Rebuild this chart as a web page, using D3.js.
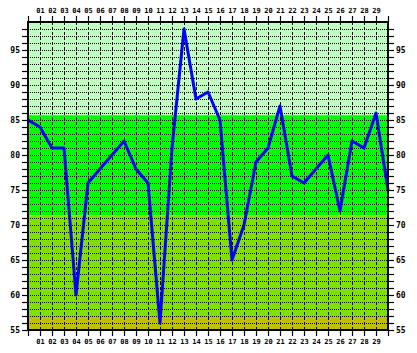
<!DOCTYPE html>
<html>
<head>
<meta charset="utf-8">
<script src="https://cdn.jsdelivr.net/npm/d3@7"></script>
<style>
  body { margin: 0; background: #fff; }
  text { font-family: "DejaVu Sans Mono", monospace; font-weight: bold; fill: #000; }
</style>
</head>
<body>
<script>
// daily readings, day 0 .. 30
var days = d3.range(0, 31);
var values = [85, 84, 81, 81, 60, 76, 78, 80, 82, 78, 76, 56, 81, 98, 88, 89,
              85, 65, 70, 79, 81, 87, 77, 76, 78, 80, 72, 82, 81, 86, 75];
var dayLabels = d3.range(1, 30).map(function(d){ return d < 10 ? "0" + d : "" + d; });
var yLabels = [55, 60, 65, 70, 75, 80, 85, 90, 95];
// background zones [from, to, colour]
var zones = [[55, 57, "#c0c000"], [57, 71.4, "#80e000"], [71.4, 85.7, "#00ff00"], [85.7, 99, "#c0ffc0"]];

var w = 417, h = 353;
var pLeft = 28, pRight = 388, pTop = 22, pBottom = 330;

var svg = d3.select("body").append("svg")
    .attr("width", w)
    .attr("height", h);

var x = d3.scaleLinear().domain([0, 30]).range([pLeft, pRight]);
var y = d3.scaleLinear().domain([55, 99]).range([pBottom, pTop]);

svg.selectAll(".zone")
    .data(zones)
    .enter()
    .append("rect")
    .attr("x", pLeft)
    .attr("width", pRight - pLeft)
    .attr("y", function(d){ return y(d[1]); })
    .attr("height", function(d){ return y(d[0]) - y(d[1]); })
    .attr("fill", function(d){ return d[2]; });

// horizontal dotted grid, every unit
svg.selectAll(".hgrid")
    .data(d3.range(56, 99))
    .enter()
    .append("line")
    .attr("x1", pLeft).attr("x2", pRight)
    .attr("y1", function(d){ return Math.round(y(d)) + 0.5; })
    .attr("y2", function(d){ return Math.round(y(d)) + 0.5; })
    .attr("stroke", "#000")
    .attr("stroke-dasharray", "1,1")
    .attr("shape-rendering", "crispEdges");

// vertical dashed grid, every day
svg.selectAll(".vgrid")
    .data(d3.range(1, 30))
    .enter()
    .append("line")
    .attr("x1", function(d){ return x(d) + 0.5; })
    .attr("x2", function(d){ return x(d) + 0.5; })
    .attr("y1", pTop).attr("y2", pBottom)
    .attr("stroke", "#000")
    .attr("stroke-dasharray", "3,2")
    .attr("shape-rendering", "crispEdges");

var line = d3.line()
    .x(function(d, i){ return x(days[i]); })
    .y(function(d){ return y(d); });

svg.append("path")
    .datum(values)
    .attr("d", line)
    .attr("fill", "none")
    .attr("stroke", "#0000ff")
    .attr("stroke-width", 3)
    .attr("stroke-linejoin", "round");

// frame
svg.append("rect")
    .attr("x", pLeft).attr("y", pTop)
    .attr("width", pRight - pLeft).attr("height", pBottom - pTop)
    .attr("fill", "none")
    .attr("stroke", "#000")
    .attr("stroke-width", 2);

// axes
function styleAxis(g){
    g.select(".domain").remove();
    g.selectAll(".tick line").attr("stroke", "#000").attr("stroke-width", 1.2);
    g.selectAll(".tick text").style("font-family", "\"DejaVu Sans Mono\", monospace").style("font-weight", "bold");
}

var yTicks = d3.range(55, 99);
var fmtY = function(d){ return yLabels.indexOf(d) >= 0 ? d : ""; };

svg.append("g")
    .attr("transform", "translate(" + pLeft + ",0)")
    .call(d3.axisLeft(y).tickValues(yTicks).tickSize(6).tickPadding(2).tickFormat(fmtY))
    .call(styleAxis)
    .selectAll("text").attr("font-size", 8);

svg.append("g")
    .attr("transform", "translate(" + pRight + ",0)")
    .call(d3.axisRight(y).tickValues(yTicks).tickSize(6).tickPadding(2).tickFormat(fmtY))
    .call(styleAxis)
    .selectAll("text").attr("font-size", 8);

var fmtX = function(d){ return d >= 1 && d <= 29 ? dayLabels[d - 1] : ""; };

svg.append("g")
    .attr("transform", "translate(0," + pTop + ")")
    .call(d3.axisTop(x).tickValues(days).tickSize(6).tickPadding(3).tickFormat(fmtX))
    .call(styleAxis)
    .selectAll("text").attr("font-size", 7);

svg.append("g")
    .attr("transform", "translate(0," + pBottom + ")")
    .call(d3.axisBottom(x).tickValues(days).tickSize(6).tickPadding(3).tickFormat(fmtX))
    .call(styleAxis)
    .selectAll("text").attr("font-size", 7);
</script>
</body>
</html>
